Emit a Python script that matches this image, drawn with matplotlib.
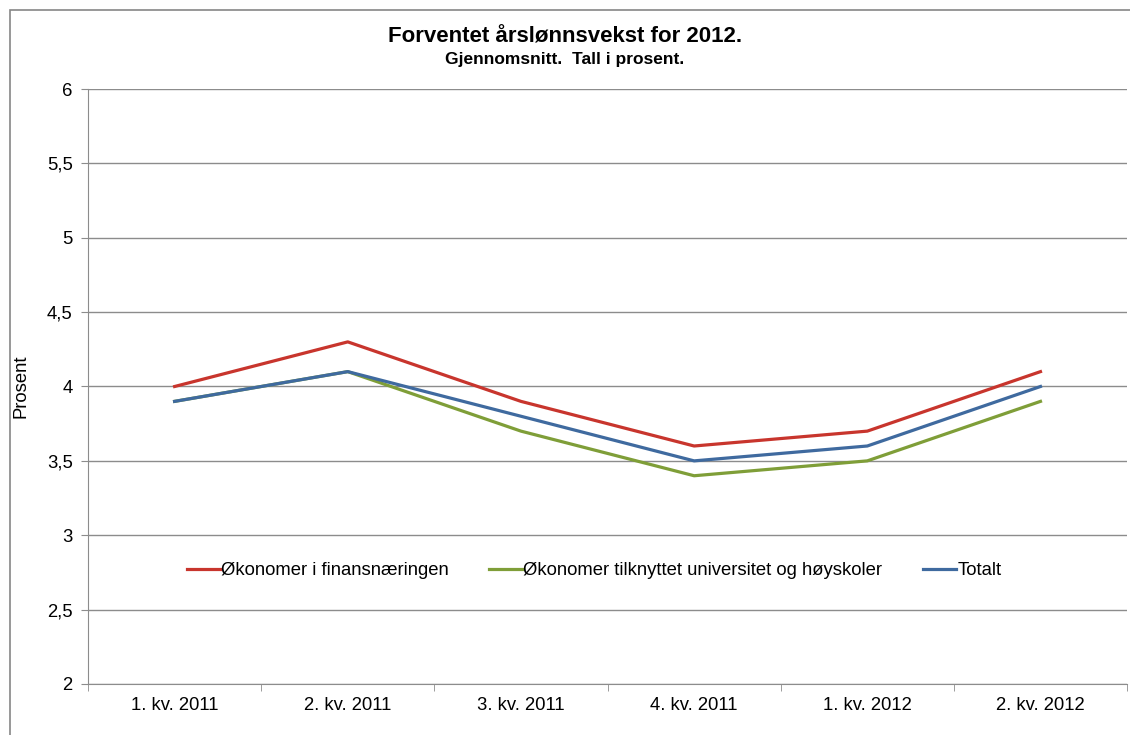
import matplotlib.pyplot as plt
from matplotlib.patches import Rectangle
from matplotlib.ticker import FuncFormatter
import numpy as np

plt.rcParams['font.family'] = ['Liberation Sans', 'DejaVu Sans']

kvartaler = ['1. kv. 2011', '2. kv. 2011', '3. kv. 2011', '4. kv. 2011', '1. kv. 2012', '2. kv. 2012']
finans = [4.0, 4.3, 3.9, 3.6, 3.7, 4.1]
universitet = [3.9, 4.1, 3.7, 3.4, 3.5, 3.9]
totalt = [3.9, 4.1, 3.8, 3.5, 3.6, 4.0]

fig = plt.figure(figsize=(11.3, 7.35), dpi=100)
ax = fig.add_axes([0.0779, 0.0694, 0.9195, 0.8095])

# ramme rundt figuren (som i Excel), bare topp og venstre synes
fig.patches.append(Rectangle((0.0088, -0.01), 1.1, 0.996, transform=fig.transFigure,
                             fill=False, edgecolor='#868686', linewidth=1.2))

x = np.arange(len(kvartaler))
ax.plot(x, finans, color='#C8352D', linewidth=2.3, label='Økonomer i finansnæringen')
ax.plot(x, universitet, color='#7F9E38', linewidth=2.3, label='Økonomer tilknyttet universitet og høyskoler')
ax.plot(x, totalt, color='#3F6A9F', linewidth=2.3, label='Totalt')

ax.set_xlim(-0.5, len(kvartaler) - 0.5)
ax.set_ylim(2, 6)
ax.set_yticks(np.arange(2, 6.01, 0.5))
ax.yaxis.set_major_formatter(FuncFormatter(lambda v, p: ('%g' % v).replace('.', ',')))
ax.grid(axis='y', color='#8c8c8c', linewidth=1)
ax.set_axisbelow(True)

ax.set_xticks(x)
ax.set_xticklabels(kvartaler)
ax.set_xticks(np.arange(-0.5, len(kvartaler), 1), minor=True)
ax.tick_params(axis='x', which='major', length=0, pad=9.5, labelsize=13.3)
ax.tick_params(axis='x', which='minor', length=5, color='#8c8c8c')
ax.tick_params(axis='y', length=5, color='#8c8c8c', labelsize=13.3, pad=6)

for s in ['top', 'right']:
    ax.spines[s].set_visible(False)
ax.spines['left'].set_color('#8c8c8c')
ax.spines['bottom'].set_color('#8c8c8c')

ax.set_ylabel('Prosent', fontsize=13.3)
ax.yaxis.set_label_coords(-0.056, 0.5)

fig.text(0.5, 0.949, 'Forventet årslønnsvekst for 2012.', ha='center', va='center',
         fontsize=16, fontweight='bold')
fig.text(0.5, 0.919, 'Gjennomsnitt.  Tall i prosent.', ha='center', va='center',
         fontsize=12.5, fontweight='bold')

ax.legend(loc='center', bbox_to_anchor=(0.487, 0.19), ncol=3, frameon=False,
          fontsize=13.3, handlelength=1.8, handletextpad=0.05, columnspacing=2.2)

fig.savefig('out.png', dpi=100)
